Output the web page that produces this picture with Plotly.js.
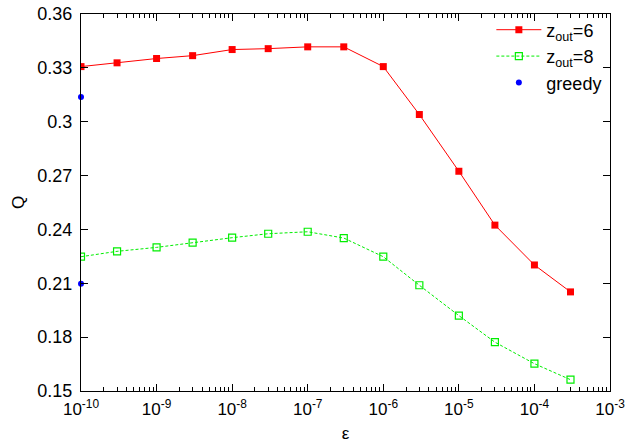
<!DOCTYPE html>
<html>
<head>
<meta charset="utf-8">
<script src="https://cdn.plot.ly/plotly-3.0.1.min.js"></script>
<style>html,body{margin:0;padding:0;background:#fff;}#chart{width:629px;height:445px;}</style>
</head>
<body>
<div id="chart"></div>
<script>
const eps = [1e-10, 3e-10, 1e-9, 3e-9, 1e-8, 3e-8, 1e-7, 3e-7, 1e-6, 3e-6, 1e-5, 3e-5, 1e-4, 3e-4];
const q_zout6 = [0.3307, 0.3328, 0.3352, 0.3368, 0.3402, 0.3407, 0.3417, 0.3417, 0.3307, 0.3040, 0.2724, 0.2424, 0.2202, 0.2052];
const q_zout8 = [0.2248, 0.2278, 0.2300, 0.2326, 0.2354, 0.2376, 0.2387, 0.2352, 0.2248, 0.2089, 0.1920, 0.1772, 0.1652, 0.1563];
const greedyEps = [1e-10, 1e-10];
const greedyQ = [0.3137, 0.2098];
const xTickVals = [1e-10, 1e-9, 1e-8, 1e-7, 1e-6, 1e-5, 1e-4, 1e-3];
const xTickText = ['10<sup>-10</sup>', '10<sup>-9</sup>', '10<sup>-8</sup>', '10<sup>-7</sup>', '10<sup>-6</sup>', '10<sup>-5</sup>', '10<sup>-4</sup>', '10<sup>-3</sup>'];
const yTickVals = [0.15, 0.18, 0.21, 0.24, 0.27, 0.30, 0.33, 0.36];
const yTickText = ['0.15', '0.18', '0.21', '0.24', '0.27', '0.3', '0.33', '0.36'];

const fam = 'Liberation Sans, Arial, sans-serif';

const traces = [
  {x: eps, y: q_zout6, name: 'z<sub>out</sub>=6', mode: 'lines+markers',
   line: {color: '#ff0000', width: 1}, marker: {symbol: 'square', size: 7, color: '#ff0000'}},
  {x: eps, y: q_zout8, name: 'z<sub>out</sub>=8', mode: 'lines+markers',
   line: {color: '#00ee00', width: 1, dash: '3px,2px'}, marker: {symbol: 'square-open', size: 7, color: '#00ee00', line: {width: 1.2}}},
  {x: greedyEps, y: greedyQ, name: 'greedy', mode: 'markers',
   marker: {symbol: 'circle', size: 6, color: '#0000ff'}, cliponaxis: false}
];

const layout = {
  width: 629, height: 445,
  margin: {l: 81, r: 19, t: 13, b: 54},
  paper_bgcolor: '#fff', plot_bgcolor: '#fff',
  font: {family: fam, size: 17, color: '#000'},
  showlegend: true,
  legend: {x: 0.995, y: 1.004, xanchor: 'right', yanchor: 'top', bgcolor: 'rgba(0,0,0,0)',
           font: {family: fam, size: 18, color: '#000'}, itemwidth: 45, tracegroupgap: 0},
  xaxis: {
    type: 'log', range: [-10, -3], showgrid: false, zeroline: false,
    showline: true, linecolor: '#000', linewidth: 1, mirror: 'allticks',
    ticks: 'inside', ticklen: 7, tickcolor: '#000',
    tickmode: 'array', tickvals: xTickVals, ticktext: xTickText,
    tickfont: {family: fam, size: 17, color: '#000'}, ticklabelstandoff: 3,
    minor: {ticks: 'inside', ticklen: 4, tickcolor: '#000', dtick: 'D1', showgrid: false},
    title: {text: 'ε', font: {family: fam, size: 17, color: '#000'}, standoff: 8}
  },
  yaxis: {
    range: [0.15, 0.36], showgrid: false, zeroline: false,
    showline: true, linecolor: '#000', linewidth: 1, mirror: 'allticks',
    ticks: 'inside', ticklen: 7, tickcolor: '#000',
    tickmode: 'array', tickvals: yTickVals, ticktext: yTickText,
    tickfont: {family: fam, size: 18, color: '#000'}, ticklabelstandoff: 4,
    title: {text: 'Q', font: {family: fam, size: 17, color: '#000'}, standoff: 8}
  }
};

Plotly.newPlot('chart', traces, layout, {displayModeBar: false, staticPlot: true});
</script>
</body>
</html>
